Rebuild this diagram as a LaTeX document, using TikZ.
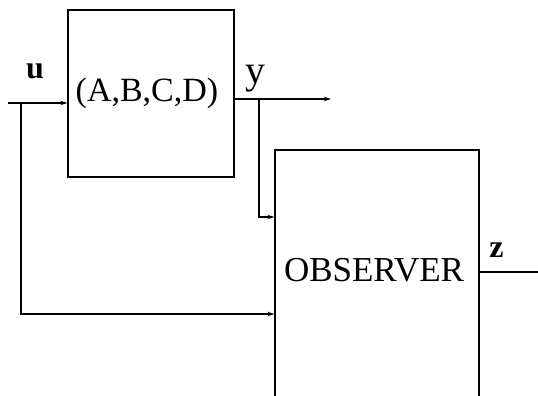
\documentclass[tikz,border=0pt]{standalone}
\usepackage{fontspec}
\setmainfont{Liberation Serif}
\usetikzlibrary{arrows.meta}
\begin{document}
\begin{tikzpicture}[x=1pt,y=-1pt,
  wire/.style={line width=1.3pt},
  sig/.style={wire,-{Stealth[length=7pt,width=4.5pt]}},
  blockbox/.style={draw,line width=1.3pt,inner sep=0pt},
  bigtext/.style={font=\fontsize{34}{40}\selectfont},
  lbl/.style={font=\fontsize{32}{36}\selectfont\bfseries,inner sep=0pt}]
  \clip (0,0) rectangle (538,396);
  % plant block
  \node[blockbox,minimum width=166pt,minimum height=167pt] (sys) at (151,93.5) {};
  \node[bigtext] (systext) at (147,93) {(A,B,C,D)};
  % observer block, open towards the bottom edge
  \node[blockbox,minimum width=204pt,minimum height=260pt] (obs) at (377,280) {};
  \node[bigtext,font=\fontsize{35}{40}\selectfont] (obstext) at (374,270) {OBSERVER};
  % signal end points
  \coordinate (uin) at (8,103);
  \coordinate (ub) at (21,103);
  \coordinate (yout) at (331,99);
  \coordinate (yb) at (259,99);
  \coordinate (zout) at (545,272);
  % input u
  \draw[sig] (uin) -- (uin -| sys.west);
  \draw[sig] (ub) |- (obs.west |- 0,314);
  % output y
  \draw[sig] (sys.east |- yout) -- (yout);
  \draw[sig] (yb) |- (obs.west |- 0,217);
  % observer output z
  \draw[wire] (obs.east |- zout) -- (zout);
  % labels
  \node[lbl] (ulbl) at (35,71.5) {u};
  \node[inner sep=0pt,font=\fontsize{40}{44}\selectfont] (ylbl) at (255,78.5) {y};
  \node[lbl] (zlbl) at (496.5,250) {z};
\end{tikzpicture}
\end{document}
